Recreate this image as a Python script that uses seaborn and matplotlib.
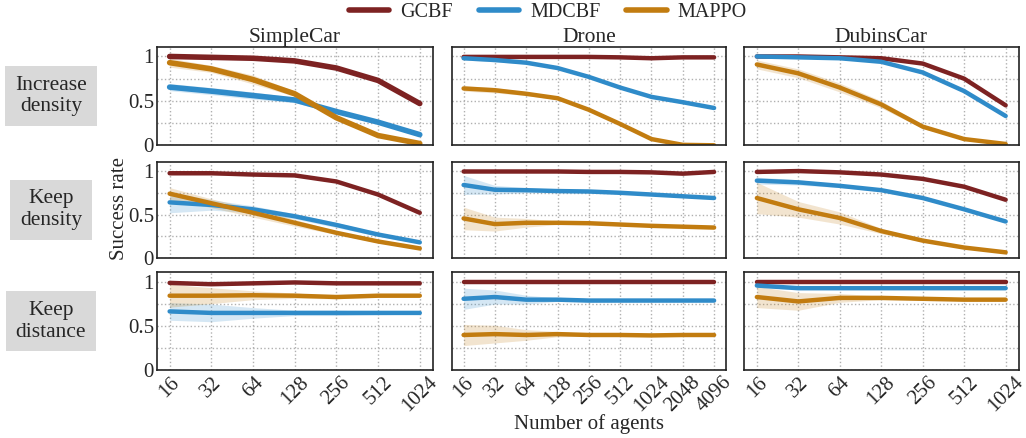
import numpy as np
import pandas as pd
import matplotlib
matplotlib.use("Agg")
import matplotlib.pyplot as plt
import seaborn as sns

sns.set_style("white")
plt.rcParams['font.family'] = ['Liberation Serif', 'DejaVu Serif']
plt.rcParams['mathtext.fontset'] = 'stix'

methods = ['GCBF', 'MDCBF', 'MAPPO']
colors = {'GCBF': '#7d2222', 'MDCBF': '#2f8bc9', 'MAPPO': '#c27c10'}
envs = ['SimpleCar', 'Drone', 'DubinsCar']
settings = ['Increase\ndensity', 'Keep\ndensity', 'Keep\ndistance']

agents_car = [16, 32, 64, 128, 256, 512, 1024]
agents_drone = [16, 32, 64, 128, 256, 512, 1024, 2048, 4096]

# mean success rate
# row 1: increase density
inc_simplecar = {'GCBF': [1.0, 0.99, 0.98, 0.95, 0.87, 0.73, 0.47],
                 'MDCBF': [0.655, 0.61, 0.56, 0.51, 0.38, 0.26, 0.12],
                 'MAPPO': [0.93, 0.86, 0.74, 0.58, 0.31, 0.11, 0.02]}
inc_drone = {'GCBF': [0.995, 0.995, 0.995, 0.995, 0.995, 0.99, 0.98, 0.99, 0.99],
             'MDCBF': [0.98, 0.96, 0.93, 0.87, 0.77, 0.65, 0.545, 0.485, 0.42],
             'MAPPO': [0.64, 0.62, 0.58, 0.53, 0.40, 0.24, 0.07, 0.005, 0.0]}
inc_dubins = {'GCBF': [1.0, 1.0, 0.99, 0.98, 0.92, 0.75, 0.45],
              'MDCBF': [1.0, 0.99, 0.98, 0.94, 0.82, 0.61, 0.33],
              'MAPPO': [0.91, 0.81, 0.65, 0.46, 0.21, 0.07, 0.015]}
# row 2: keep density
kd_simplecar = {'GCBF': [0.975, 0.975, 0.96, 0.95, 0.88, 0.73, 0.52],
                'MDCBF': [0.64, 0.61, 0.56, 0.48, 0.38, 0.27, 0.18],
                'MAPPO': [0.74, 0.63, 0.52, 0.405, 0.29, 0.19, 0.11]}
kd_drone = {'GCBF': [0.995, 0.995, 0.995, 0.995, 0.99, 0.99, 0.985, 0.97, 0.99],
            'MDCBF': [0.84, 0.785, 0.78, 0.77, 0.765, 0.75, 0.73, 0.71, 0.69],
            'MAPPO': [0.455, 0.39, 0.405, 0.405, 0.40, 0.385, 0.37, 0.36, 0.35]}
kd_dubins = {'GCBF': [0.99, 1.0, 0.985, 0.96, 0.91, 0.82, 0.67],
             'MDCBF': [0.89, 0.87, 0.83, 0.78, 0.69, 0.56, 0.42],
             'MAPPO': [0.69, 0.56, 0.46, 0.31, 0.20, 0.12, 0.065]}
# row 3: keep distance
kdist_simplecar = {'GCBF': [0.99, 0.975, 0.985, 0.995, 0.985, 0.985, 0.985],
                   'MDCBF': [0.667, 0.65, 0.65, 0.65, 0.65, 0.65, 0.65],
                   'MAPPO': [0.845, 0.845, 0.85, 0.845, 0.83, 0.845, 0.845]}
kdist_drone = {'GCBF': [1.0, 1.0, 1.0, 1.0, 1.0, 1.0, 1.0, 1.0, 1.0],
               'MDCBF': [0.81, 0.83, 0.80, 0.80, 0.79, 0.79, 0.79, 0.79, 0.79],
               'MAPPO': [0.40, 0.41, 0.40, 0.41, 0.40, 0.40, 0.395, 0.40, 0.40]}
kdist_dubins = {'GCBF': [1.0, 1.0, 1.0, 1.0, 1.0, 1.0, 1.0],
                'MDCBF': [0.96, 0.93, 0.93, 0.93, 0.93, 0.93, 0.93],
                'MAPPO': [0.83, 0.78, 0.82, 0.82, 0.81, 0.80, 0.80]}

# half width of the shaded band
inc_simplecar_sd = {'GCBF': [0.02, 0.02, 0.02, 0.015, 0.01, 0.01, 0.01],
                    'MDCBF': [0.04, 0.04, 0.04, 0.03, 0.02, 0.015, 0.01],
                    'MAPPO': [0.05, 0.04, 0.05, 0.03, 0.015, 0.01, 0.01]}
inc_drone_sd = {'GCBF': [0.01] * 9,
                'MDCBF': [0.02, 0.02, 0.015, 0.01, 0.01, 0.01, 0.01, 0.01, 0.01],
                'MAPPO': [0.03, 0.03, 0.02, 0.015, 0.01, 0.01, 0.01, 0.005, 0.0]}
inc_dubins_sd = {'GCBF': [0.01] * 7,
                 'MDCBF': [0.01, 0.01, 0.01, 0.01, 0.015, 0.015, 0.01],
                 'MAPPO': [0.05, 0.05, 0.05, 0.04, 0.02, 0.01, 0.01]}
kd_simplecar_sd = {'GCBF': [0.02, 0.02, 0.015, 0.01, 0.01, 0.01, 0.01],
                   'MDCBF': [0.12, 0.06, 0.04, 0.03, 0.03, 0.02, 0.015],
                   'MAPPO': [0.07, 0.05, 0.05, 0.04, 0.02, 0.015, 0.01]}
kd_drone_sd = {'GCBF': [0.01] * 9,
               'MDCBF': [0.11, 0.05, 0.03, 0.02, 0.015, 0.01, 0.01, 0.01, 0.01],
               'MAPPO': [0.13, 0.08, 0.05, 0.02, 0.015, 0.015, 0.01, 0.01, 0.01]}
kd_dubins_sd = {'GCBF': [0.02, 0.015, 0.01, 0.01, 0.01, 0.01, 0.01],
                'MDCBF': [0.04, 0.03, 0.02, 0.015, 0.015, 0.01, 0.01],
                'MAPPO': [0.18, 0.09, 0.07, 0.03, 0.015, 0.01, 0.01]}
kdist_simplecar_sd = {'GCBF': [0.02, 0.015, 0.01, 0.01, 0.01, 0.01, 0.01],
                      'MDCBF': [0.1, 0.1, 0.06, 0.03, 0.03, 0.02, 0.015],
                      'MAPPO': [0.13, 0.09, 0.05, 0.03, 0.02, 0.015, 0.01]}
kdist_drone_sd = {'GCBF': [0.01] * 9,
                  'MDCBF': [0.12, 0.08, 0.05, 0.02, 0.015, 0.01, 0.01, 0.01, 0.01],
                  'MAPPO': [0.12, 0.1, 0.06, 0.03, 0.015, 0.01, 0.01, 0.01, 0.01]}
kdist_dubins_sd = {'GCBF': [0.01] * 7,
                   'MDCBF': [0.02, 0.015, 0.01, 0.01, 0.01, 0.01, 0.01],
                   'MAPPO': [0.12, 0.1, 0.05, 0.02, 0.015, 0.01, 0.01]}

means = [[inc_simplecar, inc_drone, inc_dubins],
         [kd_simplecar, kd_drone, kd_dubins],
         [kdist_simplecar, kdist_drone, kdist_dubins]]
spreads = [[inc_simplecar_sd, inc_drone_sd, inc_dubins_sd],
           [kd_simplecar_sd, kd_drone_sd, kd_dubins_sd],
           [kdist_simplecar_sd, kdist_drone_sd, kdist_dubins_sd]]
agent_lists = [agents_car, agents_drone, agents_car]

fig = plt.figure(figsize=(10.26, 4.38), dpi=100)
col_lr = [(156.7, 432.7), (451.7, 726.0), (744.0, 1018.5)]
row_tb = [(46.7, 145.3), (161.5, 258.0), (272.3, 370.3)]
W, H = 1026.0, 438.0
axes = np.empty((3, 3), dtype=object)
for r in range(3):
    for c in range(3):
        l, rr = col_lr[c]
        t, b = row_tb[r]
        axes[r, c] = fig.add_axes([l / W, 1 - b / H, (rr - l) / W, (b - t) / H])

for r in range(3):
    for c in range(3):
        ax = axes[r, c]
        xs = agent_lists[c]
        for m in methods:
            y = np.array(means[r][c][m])
            s = np.array(spreads[r][c][m])
            df = pd.DataFrame({'agents': xs, 'rate': y})
            ax.fill_between(xs, np.clip(y - s, 0, 1.02), np.clip(y + s, 0, 1.02),
                            color=colors[m], alpha=0.2, linewidth=0)
            sns.lineplot(data=df, x='agents', y='rate', ax=ax, color=colors[m],
                         linewidth=3.2, label=m if (r == 0 and c == 0) else None,
                         legend=False)
        ax.set_xscale('log', base=2)
        pad = 0.31 if c != 1 else 0.38
        ax.set_xlim(xs[0] / 2 ** pad, xs[-1] * 2 ** pad)
        ax.set_ylim(0, 1.11)
        ax.set_xticks(xs)
        ax.minorticks_off()
        ax.set_yticks([0, 0.25, 0.5, 0.75, 1.0])
        if c == 0:
            ax.set_yticklabels(['0', '', '0.5', '', '1'], fontsize=15)
        else:
            ax.set_yticklabels([])
        if r == 2:
            ax.set_xticklabels([str(v) for v in xs], rotation=45, fontsize=15,
                               ha='center', rotation_mode='default')
        else:
            ax.set_xticklabels([])
        ax.grid(True, linestyle=':', color='#b0b0b0', linewidth=1)
        ax.tick_params(axis='both', length=0, pad=2)
        for sp in ax.spines.values():
            sp.set_color('#222222')
            sp.set_linewidth(1.2)
        ax.set_xlabel('')
        ax.set_ylabel('')
        if r == 0:
            ax.set_title(envs[c], fontsize=15.5, pad=3)

for r in range(3):
    t, b = row_tb[r]
    fig.text(51 / W, 1 - (t + b) / 2 / H, settings[r], ha='center', va='center',
             fontsize=15.5, linespacing=1.2,
             bbox=dict(boxstyle='square,pad=0.45', facecolor='#d9d9d9',
                       edgecolor='none'))

fig.text(120 / W, 1 - 209 / H, 'Success rate', rotation=90, ha='center',
         va='center', fontsize=15)
fig.text(589 / W, 1 - 424 / H, 'Number of agents', ha='center', va='center',
         fontsize=15)

handles, labels = axes[0, 0].get_legend_handles_labels()
for h in handles:
    h.set_linewidth(4)
fig.legend(handles, labels, loc='center', bbox_to_anchor=(0.534, 1 - 12 / H),
           ncol=3, frameon=False, fontsize=14.5, handlelength=2.0,
           columnspacing=1.3, handletextpad=0.55)

fig.savefig('out.png', dpi=100)
